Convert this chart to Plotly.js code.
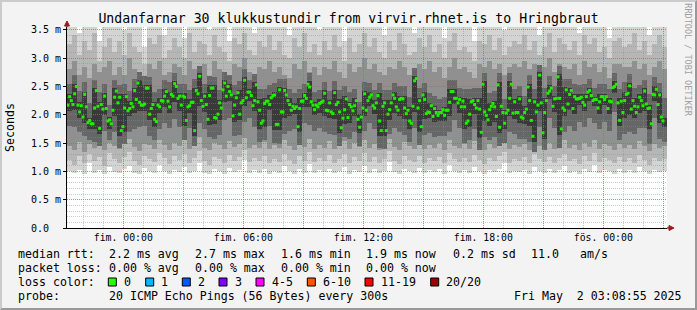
<!DOCTYPE html>
<html><head><meta charset="utf-8">
<script src="https://cdn.plot.ly/plotly-3.0.1.min.js"></script>
<style>
html,body{margin:0;padding:0;background:#f3f3f3;}
#chart{width:697px;height:310px;}
#frame{position:absolute;left:0;top:0;width:697px;height:310px;box-sizing:border-box;border-top:2px solid #cbcbcb;border-left:2px solid #cbcbcb;border-right:2px solid #999;border-bottom:2px solid #999;pointer-events:none;}
</style>
</head><body><div id="chart"></div><div id="frame"></div>
<script>
// ---------------- data ----------------
const medianStart = Date.UTC(2025, 3, 30, 21, 14, 0);   // first 5-minute sample
const stepMinutes = 5;
const pingsPerColumn = 3;                                 // smoke columns = 15 min

const medianRtt = [
2.17,2.32,2.25,2.18,2.37,2.50,2.17,2.05,2.16,1.96,2.36,2.14,1.86,1.90,1.84,1.84,2.12,2.43,2.15,1.76,
2.18,2.10,2.33,2.11,1.89,1.91,1.84,2.08,2.31,2.42,2.21,2.31,1.72,1.79,2.12,2.32,2.07,2.11,2.20,2.14,
2.43,2.27,2.56,2.22,2.17,2.17,2.19,2.47,2.47,2.01,2.11,2.18,1.92,1.88,2.17,2.14,2.25,2.24,2.33,2.41,
2.24,2.14,2.36,2.33,2.55,2.50,2.29,2.33,2.17,2.33,2.31,1.90,2.14,2.16,2.22,2.22,1.72,2.43,2.37,2.68,
2.25,2.15,2.33,2.18,1.92,2.34,2.47,2.47,1.95,1.94,2.01,2.21,2.12,2.44,2.56,2.33,2.50,2.41,2.35,1.98,
2.17,2.30,2.39,2.01,2.21,2.25,2.61,2.30,2.40,2.40,2.34,2.16,2.25,2.53,2.23,2.08,1.85,1.89,2.20,2.24,
2.24,2.18,2.30,2.34,2.35,1.83,1.83,2.44,2.05,2.05,2.43,2.35,2.25,2.18,2.08,2.15,2.11,2.14,1.79,2.11,
2.24,2.24,2.34,2.29,2.54,2.49,2.23,2.17,2.09,2.17,2.14,2.20,2.22,2.24,2.38,2.08,2.07,2.21,2.05,2.02,
2.39,2.18,2.22,2.05,1.77,1.94,2.09,2.28,1.95,2.18,2.14,2.07,2.16,2.25,1.92,1.78,1.96,2.12,2.37,2.08,
2.25,2.31,2.35,2.16,2.12,2.21,2.34,1.89,1.72,2.15,2.21,1.72,2.01,2.09,2.21,2.35,2.29,2.14,2.08,2.27,
2.29,2.28,2.12,2.02,2.08,1.89,1.85,2.15,2.60,2.64,2.12,2.25,1.79,2.35,2.27,2.02,2.05,2.04,2.16,1.97,
2.11,2.04,1.99,2.04,2.04,2.09,1.99,2.08,2.08,2.22,2.41,2.41,2.29,2.29,2.21,2.27,2.14,2.24,2.14,1.85,
1.89,2.01,2.23,2.25,2.18,2.12,2.25,2.10,1.69,2.54,2.05,1.99,1.91,2.09,2.15,2.20,2.14,1.97,2.53,1.78,
2.15,2.04,1.85,2.03,2.08,2.29,2.54,2.03,2.23,2.04,2.04,2.28,1.96,1.94,2.04,2.10,2.49,2.25,1.90,1.62,
2.23,2.05,2.17,2.70,2.21,1.68,2.04,2.25,2.38,2.42,2.47,2.15,2.28,2.29,2.67,2.29,1.75,2.12,2.08,2.44,
2.19,2.36,2.43,2.11,2.32,2.28,2.28,2.29,2.31,2.22,2.17,2.32,2.40,2.43,2.34,2.25,2.27,2.27,2.12,2.23,
2.32,2.32,2.27,2.32,2.11,2.24,2.23,2.48,2.50,2.54,2.21,1.90,2.24,2.04,2.25,2.36,2.38,2.51,2.10,2.25,
2.15,2.04,2.14,2.31,2.25,2.16,2.42,2.19,2.11,2.12,1.84,2.36,2.35,2.45,2.18,2.35,1.96,1.89
];

// smoke: outer (lightest) to inner (darkest) bands, low/high per 15-min column (ms)
const smoke1Low = [
1.00,0.97,1.02,0.95,1.15,0.98,1.03,0.96,1.08,0.99, 0.97,1.04,1.10,0.98,0.95,1.06,1.00,0.97,1.12,1.01,
0.96,1.03,0.99,1.08,0.97,1.01,1.15,0.98,0.96,1.04, 1.00,0.95,1.06,0.99,1.02,1.20,0.97,1.03,0.98,1.05,
0.96,1.01,0.98,1.09,1.00,0.96,1.04,0.98,1.13,0.97, 1.02,0.99,1.05,0.97,1.00,1.07,0.96,1.03,0.99,1.10,
0.98,1.04,0.97,1.01,1.16,0.99,0.96,1.05,1.00,0.98, 1.06,0.97,1.02,0.99,1.04,0.96,1.11,1.00,0.98,1.03,
0.97,1.08,1.00,0.96,1.02,0.99,1.05,1.14,0.97,1.01, 0.99,1.03,0.96,1.07,1.00,0.98,1.04,0.97,1.02,1.09,
0.98,1.01,0.96,1.05,0.99,1.12,0.97,1.03,1.00,0.96, 1.04,0.98,1.02,0.97,1.08,1.00,0.95,1.03,0.99,1.01];
const smoke1High = [
3.6,3.6,3.45,3.6,3.6,3.6,3.3,3.6,3.6,3.6, 3.6,3.5,3.6,3.6,3.6,3.2,3.6,3.6,3.6,3.4,
3.6,3.6,3.6,3.35,3.6,3.6,3.6,3.6,3.5,3.6, 3.6,3.6,3.3,3.6,3.6,3.6,3.6,3.45,3.6,3.6,
3.6,3.6,3.6,3.6,3.4,3.6,3.6,3.6,3.6,3.6, 3.5,3.6,3.6,3.6,3.6,3.3,3.6,3.6,3.6,3.6,
3.6,3.6,3.6,3.4,3.6,3.6,3.6,3.6,3.6,3.45, 3.6,3.6,3.6,3.6,3.6,3.35,3.6,3.6,3.6,3.6,
3.6,3.3,3.6,3.6,3.6,3.6,3.6,3.5,3.6,3.6, 3.6,3.6,3.6,3.6,3.4,3.6,3.6,3.6,3.6,3.6,
3.6,3.6,3.45,3.6,3.6,3.6,3.6,3.6,3.35,3.6, 3.6,3.6,3.6,3.6,3.6,3.6,3.4,3.6,3.6,3.6];
const smoke2Low = [
1.20,1.12,1.28,1.15,1.30,1.18,1.25,1.10,1.32,1.22, 1.14,1.26,1.35,1.19,1.12,1.28,1.21,1.16,1.33,1.24,
1.13,1.27,1.20,1.31,1.15,1.23,1.36,1.18,1.12,1.26, 1.21,1.14,1.29,1.19,1.25,1.38,1.16,1.24,1.18,1.28,
1.15,1.22,1.17,1.31,1.20,1.13,1.27,1.19,1.34,1.16, 1.23,1.18,1.29,1.14,1.21,1.30,1.15,1.26,1.19,1.32,
1.17,1.25,1.14,1.22,1.36,1.19,1.13,1.28,1.20,1.16, 1.27,1.15,1.23,1.18,1.26,1.14,1.33,1.21,1.17,1.24,
1.16,1.29,1.20,1.13,1.24,1.18,1.27,1.35,1.15,1.22, 1.19,1.25,1.14,1.30,1.21,1.17,1.26,1.15,1.23,1.31,
1.18,1.22,1.13,1.27,1.19,1.33,1.16,1.24,1.20,1.14, 1.25,1.17,1.23,1.15,1.29,1.20,1.12,1.24,1.18,1.21];
const smoke2High = [
3.25,3.40,3.05,3.30,3.15,3.45,2.95,3.20,3.35,3.10, 3.30,3.05,3.45,3.20,3.10,2.90,3.35,3.25,3.40,3.00,
3.15,3.35,3.20,3.00,3.45,3.10,3.30,3.25,3.05,3.40, 3.20,3.10,2.95,3.35,3.25,3.45,3.15,3.05,3.30,3.20,
3.40,3.15,3.30,3.05,3.00,3.35,3.20,3.45,3.10,3.25, 3.05,3.30,3.15,3.40,3.20,2.95,3.35,3.10,3.25,3.45,
3.20,3.35,3.10,3.00,3.30,3.15,3.45,3.25,3.05,3.10, 3.35,3.20,3.40,3.10,3.25,3.00,3.30,3.45,3.15,3.20,
3.10,2.95,3.30,3.25,3.40,3.15,3.35,3.05,3.20,3.30, 3.25,3.40,3.15,3.30,3.05,3.20,3.45,3.10,3.35,3.25,
3.15,3.30,3.05,3.40,3.25,3.35,3.10,3.20,3.00,3.30, 3.35,3.20,3.25,3.45,3.15,3.30,3.05,3.25,3.40,3.20];
const smoke3Low = [
1.45,1.38,1.52,1.35,1.48,1.42,1.55,1.37,1.50,1.44, 1.40,1.53,1.58,1.43,1.36,1.49,1.46,1.39,1.56,1.47,
1.38,1.51,1.44,1.57,1.40,1.48,1.60,1.42,1.37,1.50, 1.46,1.39,1.54,1.43,1.49,1.59,1.41,1.47,1.42,1.52,
1.40,1.46,1.41,1.55,1.44,1.38,1.51,1.43,1.57,1.40, 1.47,1.42,1.53,1.39,1.45,1.54,1.40,1.50,1.43,1.56,
1.41,1.49,1.38,1.46,1.58,1.43,1.37,1.52,1.44,1.40, 1.51,1.39,1.47,1.42,1.50,1.38,1.56,1.45,1.41,1.48,
1.40,1.53,1.44,1.37,1.48,1.42,1.51,1.58,1.39,1.46, 1.43,1.49,1.38,1.54,1.45,1.41,1.50,1.39,1.47,1.55,
1.42,1.46,1.37,1.51,1.43,1.56,1.40,1.48,1.44,1.38, 1.49,1.41,1.47,1.39,1.53,1.44,1.36,1.48,1.42,1.45];
const smoke3High = [
2.80,2.95,2.70,2.85,2.65,2.90,2.75,2.85,2.95,2.70, 2.85,2.70,3.00,2.80,2.75,2.65,2.90,2.80,2.95,2.70,
2.75,2.90,2.85,2.70,2.95,2.80,2.85,2.90,2.65,2.95, 2.80,2.70,2.65,2.90,2.85,3.00,2.75,2.70,2.85,2.80,
2.95,2.75,2.85,2.70,2.65,2.90,2.80,2.95,2.75,2.85, 2.70,2.85,2.80,2.95,2.75,2.65,2.90,2.75,2.85,3.00,
2.80,2.90,2.75,2.70,2.85,2.80,2.95,2.85,2.70,2.75, 2.90,2.80,2.95,2.75,2.85,2.65,2.85,3.00,2.80,2.85,
2.75,2.65,2.90,2.85,2.95,2.80,2.90,2.70,2.85,2.90, 2.85,2.95,2.80,2.90,2.70,2.85,3.00,2.75,2.90,2.85,
2.80,2.90,2.70,2.95,2.85,2.90,2.75,2.85,2.65,2.90, 2.90,2.85,2.85,2.95,2.80,2.90,2.70,2.85,2.95,2.80];
const smoke4Low = [
1.80,1.78,1.70,1.62,1.55,1.52,1.45,1.72,1.55,1.70, 1.42,1.48,1.70,1.75,1.78,1.80,1.62,1.55,1.75,1.85,
1.76,1.92,1.78,1.55,1.76,1.45,1.85,1.74,1.60,1.58, 1.65,1.90,1.95,1.62,1.64,1.88,1.94,1.78,1.52,1.56,
1.80,1.50,1.48,1.66,1.72,1.74,1.46,1.85,1.82,1.72, 1.76,1.70,1.66,1.64,1.44,1.60,1.58,1.70,1.45,1.72,
1.86,1.74,1.42,1.40,1.66,1.76,1.70,1.64,1.52,1.76, 1.46,1.64,1.68,1.60,1.62,1.62,1.70,1.90,1.76,1.50,
1.55,1.74,1.38,1.60,1.56,1.60,1.45,1.50,1.70,1.66, 1.58,1.58,1.52,1.35,1.78,1.38,1.95,1.76,1.42,1.70,
1.80,1.72,1.88,1.78,1.94,1.86,1.74,1.88,1.72,2.05, 1.55,1.66,1.70,1.66,1.76,1.76,1.48,1.94,1.58,1.52];
const smoke4High = [
2.55,2.70,2.42,2.58,2.20,2.62,2.40,2.55,2.18,2.62, 2.52,2.55,2.42,2.64,2.76,2.68,2.66,2.40,2.46,2.62,
2.58,2.74,2.55,2.54,2.44,2.64,2.86,2.54,2.68,2.66, 2.44,2.76,2.70,2.52,2.60,2.80,2.62,2.72,2.45,2.46,
2.52,2.56,2.64,2.64,2.46,2.38,2.46,2.55,2.74,2.40, 2.44,2.58,2.42,2.60,2.44,2.50,2.40,2.46,2.22,2.58,
2.56,2.44,2.56,2.44,2.44,2.56,2.50,2.50,2.32,2.82, 2.48,2.56,2.38,2.34,2.28,2.32,2.62,2.62,2.48,2.46,
2.45,2.48,2.48,2.74,2.38,2.42,2.74,2.28,2.74,2.45, 2.50,2.34,2.70,2.46,2.88,2.48,2.68,2.50,2.86,2.64,
2.64,2.54,2.52,2.54,2.64,2.48,2.54,2.54,2.46,2.74, 2.46,2.58,2.72,2.48,2.52,2.62,2.36,2.66,2.56,2.30];
const smoke5Low = [
2.07,2.08,1.95,1.86,1.74,1.74,1.66,2.00,1.74,1.98, 1.62,1.69,1.97,2.04,2.07,2.07,1.91,1.78,2.04,2.14,
2.04,2.23,2.07,1.80,2.04,1.62,2.15,2.05,1.82,1.84, 1.91,2.23,2.25,1.88,1.91,2.15,2.24,2.06,1.75,1.79,
2.08,1.73,1.73,1.95,1.98,2.01,1.69,2.14,2.13,1.99, 2.04,1.98,1.95,1.92,1.67,1.84,1.85,1.97,1.68,1.98,
2.15,2.02,1.62,1.62,1.91,2.04,1.98,1.92,1.75,2.05, 1.69,1.92,1.94,1.87,1.89,1.89,1.98,2.19,2.04,1.75,
1.79,2.02,1.59,1.89,1.81,1.87,1.68,1.75,1.98,1.93, 1.86,1.84,1.80,1.52,2.07,1.58,2.28,2.05,1.65,1.98,
2.09,2.01,2.18,2.07,2.24,2.15,2.02,2.17,2.01,2.38, 1.80,1.94,2.00,1.94,2.04,2.06,1.74,2.25,1.86,1.79];
const smoke5High = [
2.37,2.55,2.22,2.41,1.95,2.48,2.23,2.38,1.96,2.47, 2.36,2.37,2.25,2.48,2.61,2.52,2.52,2.23,2.30,2.46,
2.41,2.60,2.38,2.38,2.27,2.48,2.73,2.38,2.52,2.52, 2.26,2.61,2.55,2.35,2.44,2.66,2.45,2.58,2.28,2.29,
2.35,2.40,2.49,2.48,2.30,2.20,2.29,2.39,2.59,2.22, 2.27,2.43,2.26,2.44,2.27,2.33,2.23,2.30,2.01,2.42,
2.40,2.26,2.39,2.26,2.26,2.40,2.34,2.33,2.13,2.69, 2.30,2.40,2.21,2.16,2.09,2.14,2.46,2.46,2.32,2.29,
2.28,2.30,2.30,2.59,2.20,2.25,2.58,2.09,2.59,2.28, 2.33,2.15,2.54,2.28,2.75,2.30,2.52,2.34,2.72,2.49,
2.48,2.37,2.36,2.37,2.48,2.32,2.37,2.37,2.29,2.59, 2.29,2.41,2.56,2.30,2.36,2.47,2.17,2.50,2.40,1.94];

const yTickVals = [0, 0.5, 1.0, 1.5, 2.0, 2.5, 3.0, 3.5];
const yTickText = ['0.0\u00a0\u00a0', '0.5 m', '1.0 m', '1.5 m', '2.0 m', '2.5 m', '3.0 m', '3.5 m'];
const xTickVals = ['2025-05-01 00:00','2025-05-01 03:00','2025-05-01 06:00','2025-05-01 09:00','2025-05-01 12:00',
                   '2025-05-01 15:00','2025-05-01 18:00','2025-05-01 21:00','2025-05-02 00:00','2025-05-02 03:00'];
const xTickText = ['fim. 00:00','','fim. 06:00','','fim. 12:00','','fim. 18:00','','fös. 00:00',''];

const lossLabels = ['0','1','2','3','4-5','6-10','11-19','20/20'];
const lossColors = ['#26ff00','#00b8ff','#0059ff','#7e00ff','#ff00ff','#ff5500','#ff0000','#a10000'];

const titleText = 'Undanfarnar 30 klukkustundir from virvir.rhnet.is to Hringbraut';

// ---------------- build ----------------
const stepMs = stepMinutes * 60000;
const fmt = ms => new Date(ms).toISOString().slice(0, 19).replace('T', ' ');
const medianTimes = medianRtt.map((_, i) => fmt(medianStart + i * stepMs));
const colTimes = smoke1Low.map((_, k) => fmt(medianStart + (pingsPerColumn * k + 1) * stepMs));
const colWidth = pingsPerColumn * stepMs;
const xRange = ['2025-04-30 21:11:06', '2025-05-02 03:11:06'];
const yRange = [0, 3.55];

const bands = [
  [smoke1Low, smoke1High, '#d4d4d4'],
  [smoke2Low, smoke2High, '#b6b6b6'],
  [smoke3Low, smoke3High, '#909090'],
  [smoke4Low, smoke4High, '#666666'],
  [smoke5Low, smoke5High, '#393939']
];
const traces = bands.map(([lo, hi, col]) => ({
  type: 'bar', x: colTimes, base: lo, y: hi.map((h, i) => h - lo[i]),
  width: colWidth, marker: {color: col, line: {width: 0}},
  xaxis: 'x', yaxis: 'y', hoverinfo: 'skip'
}));
traces.push({
  type: 'scatter', mode: 'markers', x: medianTimes, y: medianRtt,
  marker: {symbol: 'square', size: 3, color: '#20f000', line: {width: 0}},
  xaxis: 'x2', yaxis: 'y2', hoverinfo: 'skip'
});

// pixel -> paper helpers (plot area 67..667 x 27..228)
const PL = 67, PR = 667, PT = 27, PB = 228;
const qx = x => (x - PL) / (PR - PL);
const qy = y => (PB - y) / (PB - PT);

const FONT = 'DejaVu Sans Mono';
const annotations = [];
const shapes = [];
function txt(x, y, text, size, extra) {
  annotations.push(Object.assign({xref: 'paper', yref: 'paper', x: qx(x), y: qy(y), text: text,
    showarrow: false, xanchor: 'left', yanchor: 'middle', borderpad: 0,
    font: {family: FONT, size: size, color: '#000'}}, extra || {}));
}
// legend rows
const r1 = 254.3, r2 = 268.3, r3 = 282.2, r4 = 296.2, LS = 11.6;
txt(16.7, r1, 'median rtt:', LS);
txt(107.7, r1, '2.2 ms avg', LS); txt(194.3, r1, '2.7 ms max', LS); txt(280, r1, '1.6 ms min', LS);
txt(365, r1, '1.9 ms now', LS); txt(451.7, r1, '0.2 ms sd', LS); txt(530, r1, '11.0', LS); txt(579.3, r1, 'am/s', LS);
txt(16.7, r2, 'packet loss:', LS);
txt(107.7, r2, '0.00 % avg', LS); txt(194.3, r2, '0.00 % max', LS); txt(280, r2, '0.00 % min', LS); txt(365, r2, '0.00 % now', LS);
txt(16.7, r3, 'loss color:', LS);
const boxX = [108.3, 145.7, 182.3, 219, 256, 307.3, 365, 430.7];
lossLabels.forEach((lab, i) => {
  shapes.push({type: 'rect', xref: 'paper', yref: 'paper', x0: qx(boxX[i]), x1: qx(boxX[i] + 8),
    y0: qy(286), y1: qy(278), fillcolor: lossColors[i], line: {color: '#000', width: 1}});
  txt(boxX[i] + 14.7, r3, lab, LS);
});
txt(16.7, r4, 'probe:', LS);
txt(107.7, r4, '20 ICMP Echo Pings (56 Bytes) every 300s', LS);
txt(513.3, r4, 'Fri May \u00a02 03:08:55 2025', LS);
// y title and side text
txt(10, 128, 'Seconds', 11.6, {xanchor: 'center', textangle: -90});
txt(687.7, 60, 'RRDTOOL / TOBI OETIKER', 8.5, {xanchor: 'center', textangle: 90, font: {family: FONT, size: 8.5, color: '#a0a0a0'}});

// white canvas below everything
shapes.push({type: 'rect', xref: 'paper', yref: 'paper', x0: 0, x1: 1, y0: 0, y1: 1, layer: 'below',
  fillcolor: '#ffffff', line: {width: 0}});
// axis arrows
const arrowCol = '#a01818';
shapes.push({type: 'line', xref: 'paper', yref: 'paper', x0: qx(67), x1: qx(67), y0: qy(27), y1: qy(23), line: {color: '#000', width: 1}});
shapes.push({type: 'path', xref: 'paper', yref: 'paper',
  path: `M ${qx(64.5)} ${qy(26)} L ${qx(67)} ${qy(21)} L ${qx(69.5)} ${qy(26)} Z`, fillcolor: arrowCol, line: {color: arrowCol, width: 1}});
shapes.push({type: 'line', xref: 'paper', yref: 'paper', x0: qx(667), x1: qx(670), y0: qy(228), y1: qy(228), line: {color: '#000', width: 1}});
shapes.push({type: 'path', xref: 'paper', yref: 'paper',
  path: `M ${qx(669)} ${qy(225.5)} L ${qx(674)} ${qy(228)} L ${qx(669)} ${qy(230.5)} Z`, fillcolor: arrowCol, line: {color: arrowCol, width: 1}});

const majorGrid = 'rgba(225,70,70,0.55)';
const minorGrid = 'rgba(140,140,140,0.45)';
const dash = '1px,1px';

const layout = {
  width: 697, height: 310,
  margin: {l: PL, r: 697 - PR, t: PT, b: 310 - PB, pad: 0},
  paper_bgcolor: '#f3f3f3', plot_bgcolor: 'rgba(0,0,0,0)',
  barmode: 'overlay', bargap: 0, showlegend: false,
  font: {family: FONT, color: '#000'},
  title: {text: titleText, font: {family: FONT, size: 13.2, color: '#000'},
    x: 0.5, xref: 'container', xanchor: 'center', y: 1 - 18.5 / 310, yref: 'container', yanchor: 'middle'},
  xaxis: {type: 'date', range: xRange, showgrid: false, showline: false, zeroline: false,
    showticklabels: false, ticks: '', fixedrange: true},
  yaxis: {range: yRange, showgrid: false, showline: false, zeroline: false,
    showticklabels: false, ticks: '', fixedrange: true},
  xaxis2: {type: 'date', range: xRange, anchor: 'y2', tickmode: 'array', tickvals: xTickVals, ticktext: xTickText,
    showgrid: true, gridcolor: majorGrid, griddash: dash, gridwidth: 1,
    minor: {tickmode: 'linear', tick0: '2025-05-01 00:00', dtick: 3600000, showgrid: true, gridcolor: minorGrid, griddash: dash, ticks: ''},
    showline: true, linecolor: '#000', linewidth: 1, zeroline: false, ticks: '',
    tickfont: {family: FONT, size: 9.8, color: '#000'}, fixedrange: true},
  yaxis2: {range: yRange, anchor: 'x2', tickmode: 'array', tickvals: yTickVals, ticktext: yTickText,
    showgrid: true, gridcolor: majorGrid, griddash: dash, gridwidth: 1,
    minor: {tickmode: 'linear', tick0: 0, dtick: 0.1, showgrid: true, gridcolor: minorGrid, griddash: dash, ticks: ''},
    showline: true, linecolor: '#000', linewidth: 1, zeroline: false,
    ticks: 'outside', ticklen: 3, tickcolor: '#000',
    tickfont: {family: FONT, size: 10, color: '#000'}, fixedrange: true},
  annotations: annotations,
  shapes: shapes
};

Plotly.newPlot('chart', traces, layout, {displayModeBar: false, staticPlot: true});
</script>
</body></html>
